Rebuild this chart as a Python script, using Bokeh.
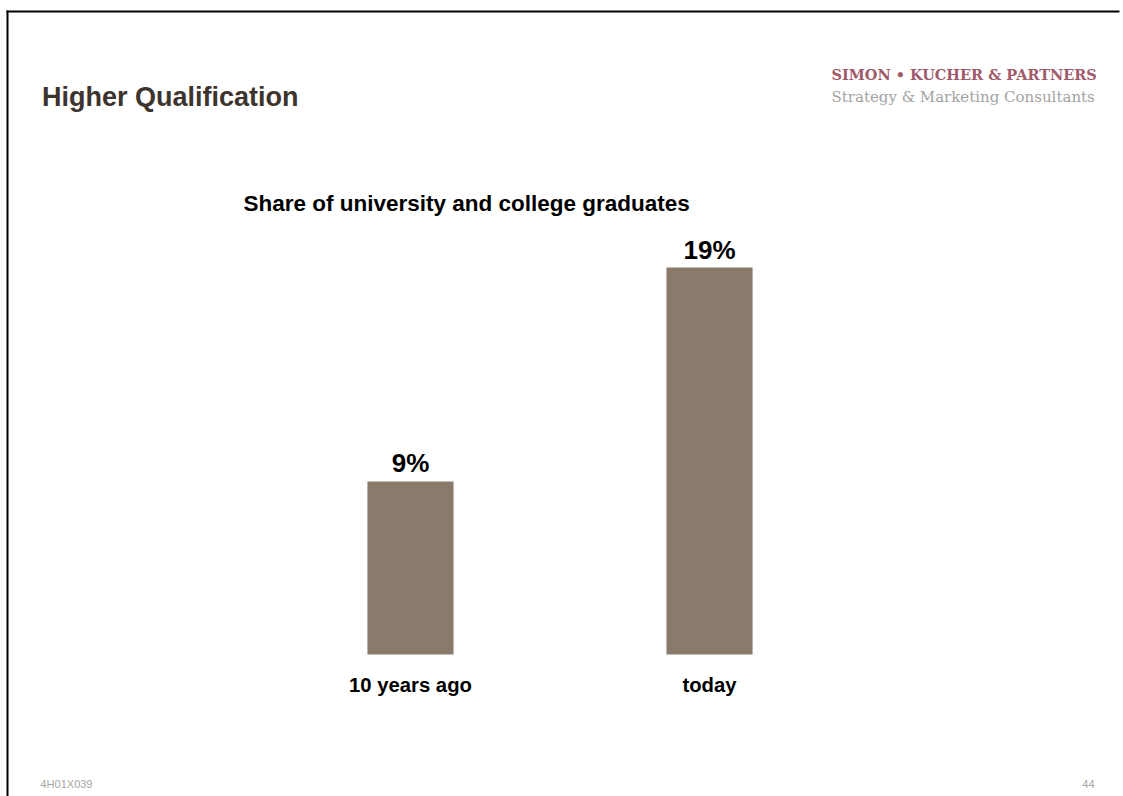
from bokeh.plotting import figure
from bokeh.models import Range1d, FactorRange, Label, ColumnDataSource, BoxAnnotation
from bokeh.core.properties import value
from bokeh.embed import file_html
from bokeh.resources import INLINE

# ---- data ----
categories = ["10 years ago", "today"]
shares = [8.5, 19.0]          # bar heights (percent)
share_labels = ["9%", "19%"]  # printed labels
title = "Higher Qualification"
subtitle = "Share of university and college graduates"
footer_left = "4H01X039"
footer_right = "44"
logo_line1 = "SIMON \u2022 KUCHER & PARTNERS"
logo_line2 = "Strategy & Marketing Consultants"

W, H = 1123, 796
FONT = "Liberation Sans"
BAR_COLOR = "#897a6b"

p = figure(width=W, height=H,
           x_range=FactorRange(*categories, range_padding=0.871),
           y_range=Range1d(-6.97, 32.11),
           x_axis_location=None, y_axis_location=None, toolbar_location=None,
           output_backend="svg", min_border=0, min_border_right=4,
           outline_line_color=None)
p.grid.grid_line_color = None
p.background_fill_color = "white"
p.border_fill_color = "white"

src = ColumnDataSource(dict(cat=categories, val=shares, lab=share_labels, zero=[0] * len(categories)))

p.vbar(x="cat", top="val", bottom=0, width=0.288, source=src,
       fill_color=BAR_COLOR, line_color=None)

p.text(x="cat", y="val", text="lab", source=src,
       text_align="center", text_baseline="alphabetic", y_offset=-18,
       text_font=value(FONT), text_font_style="bold", text_font_size="26px", text_color="black")

p.text(x="cat", y="zero", text="cat", source=src,
       text_align="center", text_baseline="alphabetic", y_offset=30,
       text_font=value(FONT), text_font_style="bold", text_font_size="20.3px", text_color="black")

# slide frame (top and left border), screen units (y measured from bottom)
for l, r, b, t in [(6, 8, 0, H - 10), (6, W, H - 12, H - 10)]:
    p.add_layout(BoxAnnotation(left=l, right=r, bottom=b, top=t,
                               left_units="screen", right_units="screen",
                               bottom_units="screen", top_units="screen",
                               fill_color="black", fill_alpha=1, line_color=None))

def lab(x, y, text, size, color, style="normal", align="left", font=FONT):
    # x, y given as pixels from the top-left of the page
    p.add_layout(Label(x=x, y=H - y, x_units="screen", y_units="screen",
                       text=text, text_font=font, text_font_size=size,
                       text_font_style=style, text_color=color, text_align=align,
                       text_baseline="alphabetic"))

lab(41.5, 96.5, title, "27px", "#3c342d", "bold")
lab(243, 203, subtitle, "22.5px", "black", "bold")
lab(831, 74, logo_line1, "14.5px", "#a05a6a", "bold", font="DejaVu Serif")
lab(831, 96, logo_line2, "15px", "#a3a3a3", "normal", font="DejaVu Serif")
lab(40, 783, footer_left, "11px", "#a6a6a6")
lab(1094, 783, footer_right, "11px", "#a6a6a6", align="right")

open("out.html", "w").write(file_html(p, INLINE))
